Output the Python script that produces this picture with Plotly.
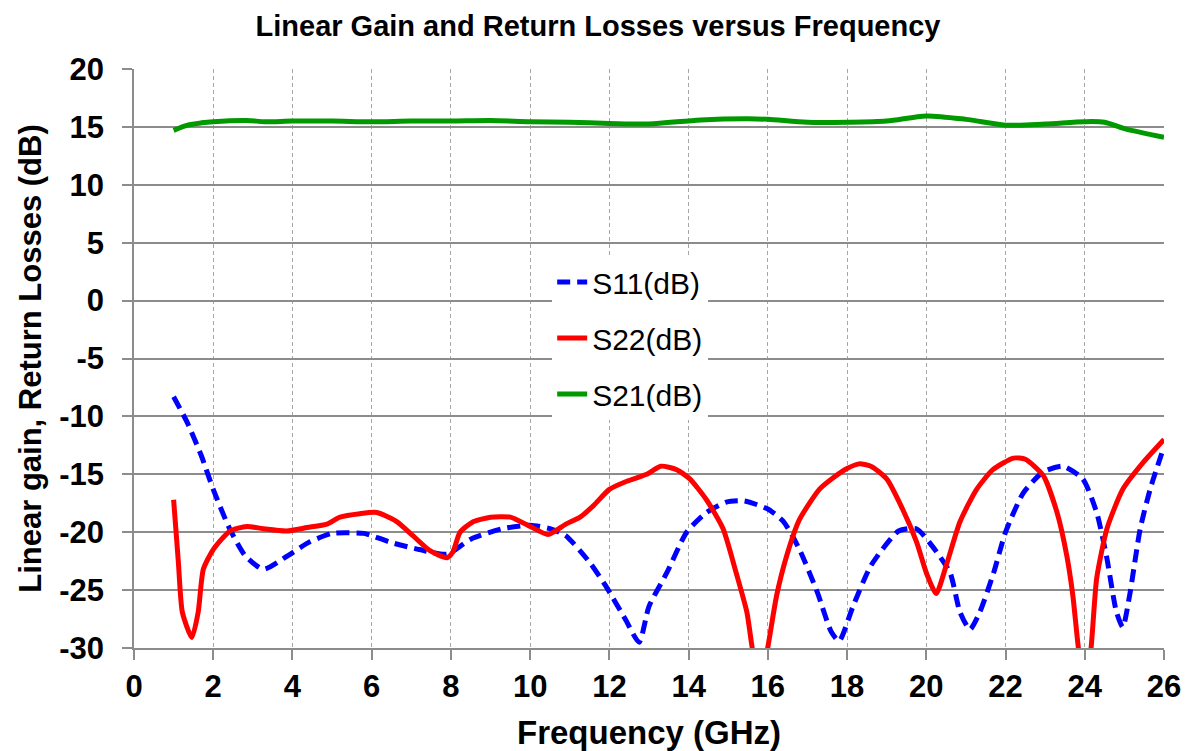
import plotly.graph_objects as go

# ---- data ----
freq_s11 = [1.0, 1.34, 1.7, 2.0, 2.4, 2.8, 3.26, 3.85, 4.4, 5.0, 5.8, 6.0, 6.5, 7.2, 7.9,
            8.5, 9.3, 10.0, 10.5, 10.9, 11.5, 11.9, 12.4, 12.75, 13.0, 13.45, 13.95, 14.45,
            14.95, 15.4, 16.0, 16.4, 16.8, 17.25, 17.6, 17.8, 18.15, 18.6, 19.3, 19.75,
            20.15, 20.6, 20.85, 21.1, 21.35, 21.7, 22.0, 22.45, 22.95, 23.45, 23.95, 24.3,
            24.55, 24.8, 24.96, 25.13, 25.4, 25.65, 26.0]
s11_db = [-8.3, -10.5, -13.4, -16.3, -19.6, -22.0, -23.2, -22.1, -20.9, -20.1, -20.1, -20.3,
          -20.9, -21.5, -21.9, -20.6, -19.7, -19.4, -19.7, -20.3, -22.6, -24.6, -27.5, -29.5,
          -26.4, -23.5, -20.0, -18.3, -17.4, -17.3, -18.0, -19.1, -21.5, -25.2, -28.6, -29.4,
          -26.4, -22.9, -19.9, -19.7, -21.2, -23.5, -26.9, -28.4, -26.9, -23.5, -20.0, -16.6,
          -14.8, -14.3, -15.4, -18.3, -22.1, -26.9, -28.2, -25.5, -19.7, -16.3, -12.6]

freq_s22 = [1.0, 1.12, 1.22, 1.46, 1.62, 1.75, 2.0, 2.42, 2.85, 3.26, 3.85, 4.37, 4.87, 5.2,
            5.7, 6.13, 6.64, 7.04, 7.47, 7.9, 8.05, 8.23, 8.56, 9.0, 9.5, 10.0, 10.45, 10.9,
            11.26, 11.6, 12.0, 12.44, 12.94, 13.3, 13.7, 14.03, 14.45, 14.87, 15.2, 15.47,
            15.62, 15.8, 15.98, 16.22, 16.47, 16.8, 17.3, 17.65, 18.0, 18.3, 18.6, 19.0,
            19.4, 19.76, 20.0, 20.25, 20.5, 20.85, 21.27, 21.68, 22.2, 22.5, 22.95, 23.3,
            23.55, 23.7, 23.85, 24.0, 24.15, 24.3, 24.56, 24.96, 25.47, 26.0]
s22_db = [-17.2, -22.6, -26.9, -29.1, -26.9, -23.2, -21.5, -19.9, -19.5, -19.7, -19.9, -19.6,
          -19.3, -18.7, -18.4, -18.3, -19.1, -20.3, -21.6, -22.2, -21.7, -20.0, -19.1, -18.7,
          -18.7, -19.5, -20.2, -19.3, -18.7, -17.7, -16.3, -15.6, -15.0, -14.3, -14.6, -15.4,
          -17.2, -19.7, -23.5, -26.9, -30.3, -33.0, -30.3, -25.5, -22.1, -18.9, -16.3, -15.3,
          -14.5, -14.1, -14.3, -15.4, -18.0, -20.9, -23.5, -25.3, -22.9, -19.1, -16.3, -14.6,
          -13.6, -13.7, -15.1, -18.3, -22.1, -25.5, -30.3, -33.0, -30.3, -24.0, -19.7, -16.3,
          -14.0, -12.0]

freq_s21 = [1.0, 1.35, 1.7, 2.0, 2.85, 3.3, 4.0, 5.0, 6.0, 7.0, 8.0, 9.0, 10.0, 11.0, 12.0,
            13.0, 14.3, 15.5, 16.0, 17.0, 18.0, 19.0, 20.0, 21.0, 22.0, 23.0, 24.0, 24.5,
            25.0, 26.0]
s21_db = [14.7, 15.15, 15.35, 15.45, 15.55, 15.45, 15.5, 15.5, 15.45, 15.5, 15.5, 15.55,
          15.45, 15.4, 15.3, 15.25, 15.6, 15.7, 15.65, 15.4, 15.4, 15.5, 15.95, 15.65, 15.15,
          15.25, 15.45, 15.4, 14.85, 14.1]

x_ticks = list(range(0, 27, 2))
y_ticks = list(range(-30, 21, 5))

FONT = "Liberation Sans, Arial, sans-serif"
W, H = 1188, 743  # page has an 8px body margin

fig = go.Figure()
fig.add_trace(go.Scatter(x=freq_s11, y=s11_db, name="S11(dB)", mode="lines",
                         legendgroup="a",
                         line=dict(color="#0000FF", width=5, dash="13px,7px",
                                   shape="spline", smoothing=0.6)))
fig.add_trace(go.Scatter(x=freq_s22, y=s22_db, name="S22(dB)", mode="lines",
                         legendgroup="b",
                         line=dict(color="#FF0000", width=5, shape="spline", smoothing=0.6)))
fig.add_trace(go.Scatter(x=freq_s21, y=s21_db, name="S21(dB)", mode="lines",
                         legendgroup="c",
                         line=dict(color="#009900", width=5, shape="spline", smoothing=0.8)))

fig.update_layout(
    width=W, height=H,
    paper_bgcolor="white", plot_bgcolor="white",
    margin=dict(l=126, r=32, t=61, b=103, autoexpand=False),
    font=dict(family=FONT, color="black"),
    title=dict(text="<b>Linear Gain and Return Losses versus Frequency</b>",
               x=590 / W, xref="container", xanchor="center",
               y=1 - 18 / H, yref="container", yanchor="middle",
               font=dict(size=29, family=FONT, color="black")),
    showlegend=True,
    legend=dict(x=0.406, y=0.677, xanchor="left", yanchor="top",
                bgcolor="white", borderwidth=0,
                font=dict(size=30, family=FONT, color="black"),
                traceorder="grouped", tracegroupgap=14),
)
fig.update_xaxes(
    range=[0, 26], tickvals=x_ticks, ticktext=[f"<b>{v}</b>" for v in x_ticks],
    tickfont=dict(size=31, family=FONT, color="black"),
    showgrid=True, gridcolor="#a6a6a6", griddash="4px,3px", gridwidth=1,
    showline=True, linecolor="#8c8c8c", linewidth=1.5,
    ticks="outside", ticklen=10, tickcolor="#8c8c8c", tickwidth=1.5,
    zeroline=False, automargin=False,
    title=dict(text="<b>Frequency (GHz)</b>", font=dict(size=33, family=FONT, color="black"),
               standoff=20),
)
fig.update_yaxes(
    range=[-30, 20], tickvals=y_ticks, ticktext=[f"<b>{v}</b>" for v in y_ticks],
    tickfont=dict(size=31, family=FONT, color="black"),
    showgrid=True, gridcolor="#8c8c8c", gridwidth=1.5,
    showline=True, linecolor="#8c8c8c", linewidth=1.5,
    ticks="outside", ticklen=10, tickcolor="#8c8c8c", tickwidth=1.5,
    zeroline=False, ticklabelstandoff=12, automargin=False,
    title=dict(text="<b>Linear gain, Return Losses (dB)</b>",
               font=dict(size=31, family=FONT, color="black"), standoff=8),
)

fig.write_html("out.html")
